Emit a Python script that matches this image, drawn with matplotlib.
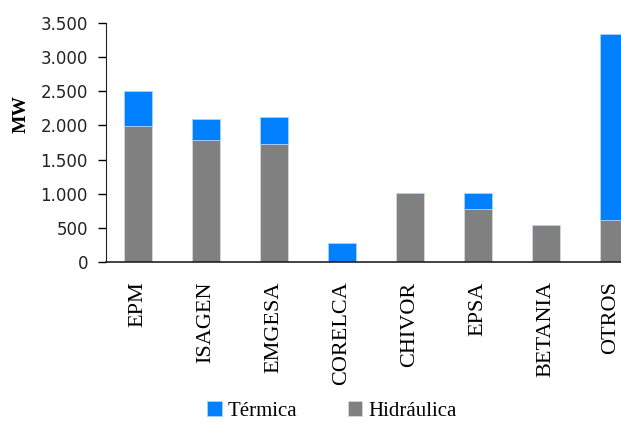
import matplotlib
matplotlib.use("Agg")
import matplotlib.pyplot as plt
import matplotlib.transforms as mtransforms
import numpy as np

categories = ["EPM", "ISAGEN", "EMGESA", "CORELCA", "CHIVOR", "EPSA", "BETANIA", "OTROS"]
hidraulica = [1990, 1780, 1735, 0, 1010, 775, 543, 620]
termica = [515, 310, 385, 285, 0, 238, 0, 2718]
yticks = [0, 500, 1000, 1500, 2000, 2500, 3000, 3500]
ytick_labels = ["0", "500", "1.000", "1.500", "2.000", "2.500", "3.000", "3.500"]

W, H = 621, 423
fig = plt.figure(figsize=(W / 100, H / 100), dpi=100)
fig.patch.set_facecolor("white")
left = 106 / W
right = 646 / W
bottom = 1 - 262 / H
top = 1 - 23 / H
ax = fig.add_axes([left, bottom, right - left, top - bottom])

x = np.arange(len(categories))
blue = "#0080FF"
gray = "#808080"
bw = 0.42
b1 = ax.bar(x, hidraulica, width=bw, color=gray, edgecolor="#d8d8d8", linewidth=0.6, label="Hidráulica")
b2 = ax.bar(x, termica, width=bw, bottom=hidraulica, color=blue, edgecolor="#a8d0ff", linewidth=0.6, label="Térmica")

ax.set_xlim(-0.474, len(categories) - 0.526)
ax.set_ylim(0, 3500)
ax.set_yticks(yticks)
ax.set_yticklabels(ytick_labels, fontsize=12, family="DejaVu Sans", color="#222222")
ax.set_xticks(x)
labels = ax.set_xticklabels(categories, rotation=90, fontsize=16, family="Liberation Serif", va="top")
ax.tick_params(axis="x", length=0, pad=14)
ax.tick_params(axis="y", length=6, width=1, direction="out", pad=7)

# nudge the last label slightly left so it stays inside the figure
shift = mtransforms.ScaledTranslation(-3 / 100, 0, fig.dpi_scale_trans)
labels[-1].set_transform(labels[-1].get_transform() + shift)

for s in ["top", "right"]:
    ax.spines[s].set_visible(False)
ax.spines["left"].set_color("#222222")
ax.spines["bottom"].set_color("#222222")
ax.spines["bottom"].set_linewidth(1.2)

fig.text(21 / W, 1 - 114 / H, "MW", rotation=90, fontsize=14, fontweight="bold",
         family="Liberation Serif", ha="center", va="center")

leg = fig.legend([b2, b1], ["Térmica", "Hidráulica"], loc="center", ncol=2,
                 bbox_to_anchor=(332 / W, 1 - 411 / H), frameon=False,
                 prop={"family": "Liberation Serif", "size": 15},
                 handlelength=0.7, handleheight=0.7, handletextpad=0.3, columnspacing=2.4)

fig.savefig("out.png", dpi=100)
